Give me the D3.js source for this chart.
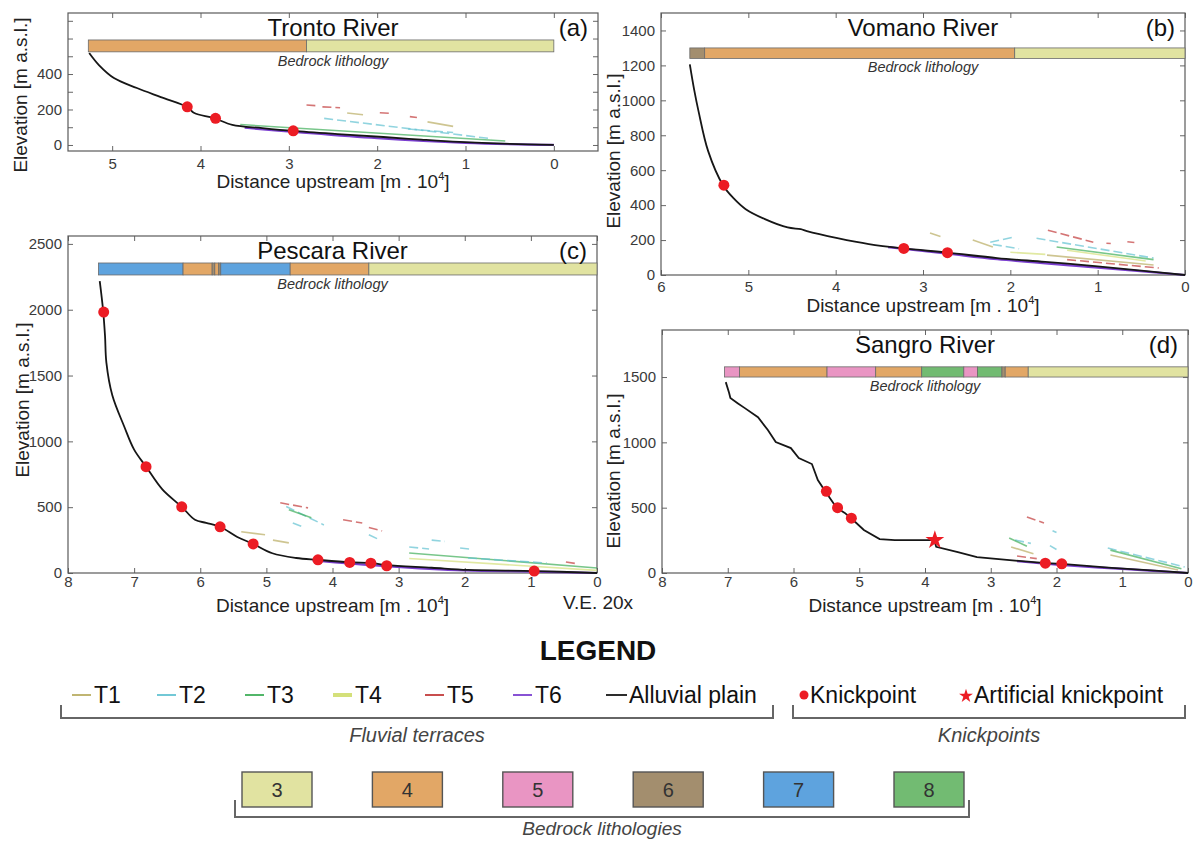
<!DOCTYPE html>
<html>
<head>
<meta charset="utf-8">
<script src="https://cdn.jsdelivr.net/npm/d3@7"></script>
<style>
body { margin: 0; background: #fff; }
text { font-family: "Liberation Sans", Arial, sans-serif; }
</style>
</head>
<body>
<svg id="fig" width="1196" height="841"></svg>
<script>
// terrace orders and bedrock lithologies
var terraceNames = ["T1", "T2", "T3", "T4", "T5", "T6"];
var terraceColors = ["#b9ad62", "#62c2d2", "#3fae58", "#d4e07a", "#c23a3a", "#7b3fd0"];
var lithCodes = [3, 4, 5, 6, 7, 8];
var lithColors = ["#e1e3a1", "#e2a766", "#e995c3", "#a38e6e", "#5ea3de", "#72bb72"];

// river long profiles: [distance upstream (m x 10^4), elevation (m a.s.l.)]
var trontoProfile = [[5.26,518],[5.15,450],[4.98,377],[4.72,321],[4.45,270],[4.15,214],[4.07,180],[3.85,152],[3.64,113],[3.3,95],[2.95,79],[2.4,60],[1.93,45],[1.5,30],[1.07,17],[0.5,6],[0,0]];
var vomanoProfile = [[5.67,1206],[5.62,1060],[5.57,937],[5.46,709],[5.29,514],[5.17,440],[5.03,377],[4.81,320],[4.55,272],[4.4,262],[4.33,251],[3.98,211],[3.62,177],[3.22,152],[2.72,128],[2.15,97],[1.6,75],[1.03,51],[0.5,25],[0,0]];
var pescaraProfile = [[7.52,2218],[7.47,2000],[7.44,1800],[7.42,1600],[7.33,1350],[7.15,1113],[7.0,937],[6.82,808],[6.57,633],[6.28,503],[6.08,404],[5.91,381],[5.70,351],[5.44,274],[5.20,221],[4.91,150],[4.55,114],[4.22,100],[3.74,82],[3.40,75],[3.18,60],[2.5,40],[1.95,23],[0.94,15],[0,0]];
var sangroProfile = [[7.03,1461],[6.98,1380],[6.96,1339],[6.85,1300],[6.74,1262],[6.54,1193],[6.39,1094],[6.27,1002],[6.04,956],[5.92,880],[5.72,834],[5.63,711],[5.51,620],[5.40,540],[5.34,497],[5.22,460],[5.11,413],[4.93,329],[4.69,260],[4.46,252],[3.86,252],[3.83,200],[3.5,160],[3.21,122],[2.63,95],[2.16,75],[1.92,70],[1.16,40],[0.5,18],[0,0]];

// knickpoints
var trontoKnick = [[4.15,215],[3.83,150],[2.95,80]];
var vomanoKnick = [[5.28,514],[3.22,152],[2.72,128]];
var pescaraKnick = [[7.46,1982],[6.82,808],[6.28,503],[5.70,351],[5.20,221],[4.22,100],[3.74,80],[3.42,75],[3.18,55],[0.95,15]];
var sangroKnick = [[5.5,625],[5.33,500],[5.12,420],[2.17,75],[1.92,70]];
var sangroArtificial = [[3.85,252]];

// terrace remnants: [terrace order, x1, z1, x2, z2]
var trontoTerraces = [[5,2.80,225,2.70,222],[5,2.62,215,2.42,210],[1,2.34,180,2.16,170],[5,1.97,182,1.85,178],[5,1.63,160,1.55,155],[1,1.43,130,1.14,105],[2,2.6,150,0.7,35],[3,3.55,115,0.55,22],[2,1.65,90,1.14,70]];
var vomanoTerraces = [[5,1.57,256,1.05,188],[5,0.9,182,0.85,180],[5,0.66,190,0.58,186],[2,2.23,188,1.97,216],[2,1.7,210,0.36,97],[3,1.47,160,0.36,88],[1,2.92,240,2.8,220],[1,2.43,200,2.2,160],[1,1.58,114,0.36,57],[4,1.35,142,0.45,80],[5,1.35,88,0.3,40],[2,2.2,175,1.9,150],[4,2.0,130,1.6,118]];
var pescaraTerraces = [[5,4.79,533,4.37,495],[5,3.84,404,3.55,380],[5,3.45,345,3.25,320],[2,4.7,505,4.13,365],[2,4.6,380,4.45,350],[2,3.45,290,3.3,255],[3,4.66,480,4.32,420],[3,2.84,152,0,38],[1,5.38,313,5.02,290],[1,4.9,250,4.66,229],[2,2.84,198,2.54,182],[2,2.07,190,1.9,180],[2,1.95,114,0.76,76],[4,2.84,110,0,20],[5,0.47,84,0.3,70],[2,2.5,250,2.3,240]];
var sangroTerraces = [[5,2.45,428,2.19,383],[2,2.06,323,2.0,310],[2,2.63,252,2.39,227],[3,2.72,268,2.45,204],[1,2.69,199,2.35,148],[2,1.22,191,0.05,46],[3,1.18,175,0.1,33],[1,1.18,138,0.15,23],[2,2.1,210,2.0,180],[5,2.6,130,2.3,110]];

// lowest terrace (T6) along the valley floor
var trontoT6 = [[3.5,97],[2.9,72],[2.0,38],[1.0,12],[0,0]];
var vomanoT6 = [[3.4,160],[2.72,122],[2.15,90],[1.03,44],[0,0]];
var pescaraT6 = [[4.3,96],[3.2,52],[2.0,19],[1.0,11],[0,0]];
var sangroT6 = [[2.6,90],[2.0,64],[1.0,31],[0,0]];

// bedrock lithology bars: elevation band and [from, to, lithology]
var trontoBar = [525, 592];
var trontoLith = [[5.27,2.8,4],[2.8,0,3]];
var vomanoBar = [1240, 1300];
var vomanoLith = [[5.67,5.5,6],[5.5,1.95,4],[1.95,0,3]];
var pescaraBar = [2264, 2355];
var pescaraLith = [[7.54,6.26,7],[6.26,5.82,4],[5.82,5.78,6],[5.78,5.72,4],[5.72,5.69,6],[5.69,4.64,7],[4.64,3.45,4],[3.45,0,3]];
var sangroBar = [1500, 1578];
var sangroLith = [[7.05,6.82,5],[6.82,5.49,4],[5.49,4.75,5],[4.75,4.05,4],[4.05,3.41,8],[3.41,3.2,5],[3.2,2.83,8],[2.83,2.78,6],[2.78,2.43,4],[2.43,0,3]];

// axis ticks
var trontoXTicks = [0,1,2,3,4,5];
var trontoYTicks = [0,100,200,300,400,500,600,700];
var trontoYLabels = [0,200,400];
var vomanoXTicks = [0,1,2,3,4,5,6];
var vomanoYTicks = [0,200,400,600,800,1000,1200,1400];
var pescaraXTicks = [0,1,2,3,4,5,6,7,8];
var pescaraYTicks = [0,500,1000,1500,2000,2500];
var sangroXTicks = [0,1,2,3,4,5,6,7,8];
var sangroYTicks = [0,500,1000,1500];

var panels = [
  { tag: "(a)", name: "Tronto River", profile: trontoProfile, knick: trontoKnick, artificial: [],
    terraces: trontoTerraces, t6: trontoT6, bar: trontoBar, lith: trontoLith,
    xTicks: trontoXTicks, yTicks: trontoYTicks, yLabels: trontoYLabels,
    frame: [68, 13, 598, 151], xDom: [5.5, -0.5], yDom: [-34, 744],
    xPad: 7, xLabelY: 188, yLabelX: 20, yLabelY: 95, curve: d3.curveCatmullRom },
  { tag: "(b)", name: "Vomano River", profile: vomanoProfile, knick: vomanoKnick, artificial: [],
    terraces: vomanoTerraces, t6: vomanoT6, bar: vomanoBar, lith: vomanoLith,
    xTicks: vomanoXTicks, yTicks: vomanoYTicks, yLabels: vomanoYTicks,
    frame: [661, 13, 1185, 275], xDom: [6, 0], yDom: [0, 1500],
    xPad: 6, xLabelY: 312, yLabelX: 613, yLabelY: 151, curve: d3.curveCatmullRom },
  { tag: "(c)", name: "Pescara River", profile: pescaraProfile, knick: pescaraKnick, artificial: [],
    terraces: pescaraTerraces, t6: pescaraT6, bar: pescaraBar, lith: pescaraLith,
    xTicks: pescaraXTicks, yTicks: pescaraYTicks, yLabels: pescaraYTicks,
    frame: [68, 236, 597, 573], xDom: [8, 0], yDom: [0, 2560],
    xPad: 3, xLabelY: 612, yLabelX: 22, yLabelY: 400, curve: d3.curveCatmullRom },
  { tag: "(d)", name: "Sangro River", profile: sangroProfile, knick: sangroKnick, artificial: sangroArtificial,
    terraces: sangroTerraces, t6: sangroT6, bar: sangroBar, lith: sangroLith,
    xTicks: sangroXTicks, yTicks: sangroYTicks, yLabels: sangroYTicks,
    frame: [662, 330, 1188, 573], xDom: [8, 0], yDom: [0, 1860],
    xPad: 3, xLabelY: 612, yLabelX: 613, yLabelY: 471, curve: d3.curveLinear }
];

var svg = d3.select("#fig");
var tColor = d3.scaleOrdinal().domain([1,2,3,4,5,6]).range(terraceColors);
var lColor = d3.scaleOrdinal().domain(lithCodes).range(lithColors);

function drawPanel(p) {
    var f = p.frame;
    var x = d3.scaleLinear().domain(p.xDom).range([f[0], f[2]]);
    var y = d3.scaleLinear().domain(p.yDom).range([f[3], f[1]]);
    var g = svg.append("g");
    var cx = (f[0] + f[2]) / 2;

    // axes, MATLAB box style with inward ticks
    var axB = g.append("g").attr("transform", "translate(0," + f[3] + ")")
        .call(d3.axisBottom(x).tickValues(p.xTicks).tickSizeInner(-5).tickSizeOuter(0).tickPadding(p.xPad).tickFormat(d3.format("d")));
    var axT = g.append("g").attr("transform", "translate(0," + f[1] + ")")
        .call(d3.axisTop(x).tickValues(p.xTicks).tickSizeInner(-5).tickSizeOuter(0).tickFormat(""));
    var axL = g.append("g").attr("transform", "translate(" + f[0] + ",0)")
        .call(d3.axisLeft(y).tickValues(p.yTicks).tickSizeInner(-5).tickSizeOuter(0).tickPadding(6)
            .tickFormat(function(d){ return p.yLabels.indexOf(d) >= 0 ? d : ""; }));
    var axR = g.append("g").attr("transform", "translate(" + f[2] + ",0)")
        .call(d3.axisRight(y).tickValues(p.yTicks).tickSizeInner(-5).tickSizeOuter(0).tickFormat(""));
    [axB, axT, axL, axR].forEach(function(a) {
        a.select(".domain").remove();
        a.selectAll("line").attr("stroke", "#666");
        a.selectAll("text").attr("font-size", 15).attr("fill", "#3a3a3a")
            .style("font-family", "'Liberation Sans', Arial, sans-serif");
    });

    g.append("rect").attr("x", f[0]).attr("y", f[1])
        .attr("width", f[2] - f[0]).attr("height", f[3] - f[1])
        .attr("fill", "none").attr("stroke", "#5a5a5a").attr("stroke-width", 1.2);

    // terraces
    g.selectAll(".terr").data(p.terraces).enter().append("line")
        .attr("x1", function(d){ return x(d[1]); }).attr("y1", function(d){ return y(d[2]); })
        .attr("x2", function(d){ return x(d[3]); }).attr("y2", function(d){ return y(d[4]); })
        .attr("stroke", function(d){ return tColor(d[0]); })
        .attr("stroke-width", 1.6).attr("stroke-opacity", 0.7)
        .attr("stroke-dasharray", function(d){ return d[0] === 2 || d[0] === 5 ? "9,4" : null; });

    var line = d3.line().x(function(d){ return x(d[0]); }).y(function(d){ return y(d[1]); });

    g.append("path").datum(p.t6).attr("d", line.curve(d3.curveCatmullRom)(p.t6))
        .attr("fill", "none").attr("stroke", tColor(6)).attr("stroke-width", 2.2);

    // alluvial plain
    g.append("path").datum(p.profile).attr("d", line.curve(p.curve)(p.profile))
        .attr("fill", "none").attr("stroke", "#161616").attr("stroke-width", 1.8);

    // lithology bar
    g.selectAll(".lith").data(p.lith).enter().append("rect")
        .attr("x", function(d){ return x(d[0]); })
        .attr("width", function(d){ return x(d[1]) - x(d[0]); })
        .attr("y", y(p.bar[1])).attr("height", y(p.bar[0]) - y(p.bar[1]))
        .attr("fill", function(d){ return lColor(d[2]); })
        .attr("stroke", "#6a6a6a").attr("stroke-width", 0.8);

    g.append("text").attr("x", cx).attr("y", y(p.bar[0]) + 14)
        .attr("text-anchor", "middle").attr("font-size", 14.5).attr("font-style", "italic")
        .attr("fill", "#333").text("Bedrock lithology");

    // knickpoints
    g.selectAll(".kp").data(p.knick).enter().append("circle")
        .attr("cx", function(d){ return x(d[0]); }).attr("cy", function(d){ return y(d[1]); })
        .attr("r", 5.5).attr("fill", "#ec1c24");
    g.selectAll(".akp").data(p.artificial).enter().append("path")
        .attr("d", d3.symbol(d3.symbolStar, 110))
        .attr("transform", function(d){ return "translate(" + x(d[0]) + "," + y(d[1]) + ")"; })
        .attr("fill", "#ec1c24");

    // titles
    g.append("text").attr("x", cx).attr("y", f[1] + 23)
        .attr("text-anchor", "middle").attr("font-size", 24).attr("fill", "#111").text(p.name);
    g.append("text").attr("x", f[2] - 10).attr("y", f[1] + 23)
        .attr("text-anchor", "end").attr("font-size", 24).attr("fill", "#111").text(p.tag);

    var xl = g.append("text").attr("x", cx).attr("y", p.xLabelY)
        .attr("text-anchor", "middle").attr("font-size", 19).attr("fill", "#222");
    xl.append("tspan").text("Distance upstream [m . 10");
    xl.append("tspan").attr("font-size", 11).attr("dy", -8).text("4");
    xl.append("tspan").attr("dy", 8).text("]");

    g.append("text").attr("transform", "translate(" + p.yLabelX + "," + p.yLabelY + ") rotate(-90)")
        .attr("text-anchor", "middle").attr("dominant-baseline", "central")
        .attr("font-size", 19).attr("fill", "#222").text("Elevation [m a.s.l.]");
}

panels.forEach(drawPanel);

svg.append("text").attr("x", 563).attr("y", 609).attr("font-size", 19).attr("fill", "#222").text("V.E. 20x");

// legend
var lg = svg.append("g");
lg.append("text").attr("x", 598).attr("y", 660).attr("text-anchor", "middle")
    .attr("font-size", 28).attr("font-weight", "bold").attr("fill", "#111").text("LEGEND");

var rowY = 703;
var termX = [72, 157, 245, 333, 425, 513];
terraceNames.forEach(function(t, i) {
    lg.append("line").attr("x1", termX[i]).attr("x2", termX[i] + 19)
        .attr("y1", rowY - 8).attr("y2", rowY - 8)
        .attr("stroke", tColor(i + 1)).attr("stroke-width", i === 3 ? 4 : 1.8);
    lg.append("text").attr("x", termX[i] + 22).attr("y", rowY)
        .attr("font-size", 23).attr("fill", "#111").text(t);
});
lg.append("line").attr("x1", 606).attr("x2", 627).attr("y1", rowY - 8).attr("y2", rowY - 8)
    .attr("stroke", "#161616").attr("stroke-width", 1.8);
lg.append("text").attr("x", 629).attr("y", rowY).attr("font-size", 23).attr("fill", "#111").text("Alluvial plain");
lg.append("circle").attr("cx", 804).attr("cy", rowY - 8).attr("r", 4.5).attr("fill", "#ec1c24");
lg.append("text").attr("x", 810).attr("y", rowY).attr("font-size", 23).attr("fill", "#111").text("Knickpoint");
lg.append("path").attr("d", d3.symbol(d3.symbolStar, 60))
    .attr("transform", "translate(966," + (rowY - 7) + ")").attr("fill", "#ec1c24");
lg.append("text").attr("x", 974).attr("y", rowY).attr("font-size", 23).attr("fill", "#111").text("Artificial knickpoint");

function bracket(x1, x2, yTop, yBot, label, labelY, size) {
    lg.append("path").attr("d", "M" + x1 + "," + yTop + "V" + yBot + "H" + x2 + "V" + yTop)
        .attr("fill", "none").attr("stroke", "#666").attr("stroke-width", 2);
    lg.append("text").attr("x", (x1 + x2) / 2).attr("y", labelY).attr("text-anchor", "middle")
        .attr("font-size", size).attr("font-style", "italic").attr("fill", "#444").text(label);
}
bracket(61, 773, 705, 718, "Fluvial terraces", 742, 20);
bracket(793, 1185, 705, 718, "Knickpoints", 742, 20);

var boxX = d3.scalePoint().domain(lithCodes).range([242, 894]);
lg.selectAll(".lbox").data(lithCodes).enter().append("rect")
    .attr("x", function(d){ return boxX(d); }).attr("y", 772)
    .attr("width", 70).attr("height", 35)
    .attr("fill", function(d){ return lColor(d); })
    .attr("stroke", "#555").attr("stroke-width", 1.4);
lg.selectAll(".lnum").data(lithCodes).enter().append("text")
    .attr("x", function(d){ return boxX(d) + 35; }).attr("y", 797)
    .attr("text-anchor", "middle").attr("font-size", 20).attr("fill", "#333")
    .text(function(d){ return d; });
bracket(235, 969, 800, 817, "Bedrock lithologies", 835, 19);
</script>
</body>
</html>
